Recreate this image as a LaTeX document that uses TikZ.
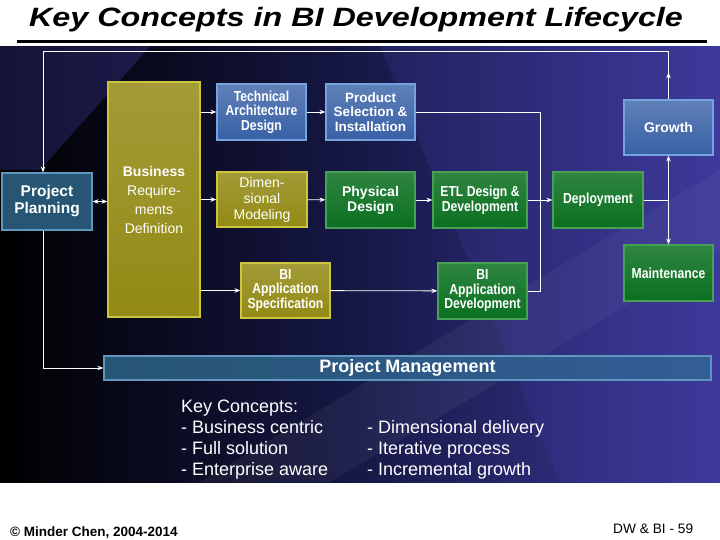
\documentclass[tikz,border=0pt]{standalone}
\usepackage{fontspec}
\setmainfont{Liberation Sans}
\newfontfamily\narrowfont[FakeStretch=0.84]{Liberation Sans}
\usetikzlibrary{calc,arrows.meta}
\definecolor{bgblue}{RGB}{62,58,156}
\definecolor{bgmid}{RGB}{22,24,70}
\definecolor{bluefill}{RGB}{56,96,166}
\definecolor{blueline}{RGB}{118,162,222}
\definecolor{olivefill}{RGB}{146,138,20}
\definecolor{oliveline}{RGB}{206,196,62}
\definecolor{greenfill}{RGB}{10,112,32}
\definecolor{greenline}{RGB}{72,160,82}
\definecolor{tealfill}{RGB}{38,86,116}
\definecolor{tealline}{RGB}{96,150,192}
\newcommand{\fs}[2]{\fontsize{#1}{#2}\selectfont}

\begin{document}
\begin{tikzpicture}[x=1pt,y=-1pt]
	\tikzset{>={Stealth[length=6pt,width=4.5pt]}}
	\tikzset{
		box/.style={draw, line width=1.2pt, inner sep=0pt, align=center, text=white},
		bluebox/.style={box, draw=blueline, top color=bluefill!80!white, bottom color=bluefill},
		olivebox/.style={box, draw=oliveline, top color=olivefill!85!white, bottom color=olivefill},
		greenbox/.style={box, draw=greenline, top color=greenfill!85!white, bottom color=greenfill},
		tealbox/.style={box, draw=tealline, fill=tealfill},
		flow/.style={draw=white, line width=0.8pt}
	}
	\useasboundingbox (0,0) rectangle (720,540);
	\fill[white] (0,0) rectangle (720,540);
	% title
	\node[anchor=base, xscale=1.22, font=\fs{26.5}{30}\bfseries\itshape] (title) at (356,27) {Key Concepts in BI Development Lifecycle};
	\draw[line width=3pt] (17,42) -- (707,42);
	% background
	\shade[left color=black, right color=bgblue, middle color=bgmid] (0,46.5) rectangle (720,482);
	\fill[bgblue, opacity=0.35] (0,46.5) -- (150,46.5) -- (40,170) -- (0,170) -- cycle;
	\fill[white, opacity=0.05] (200,482) -- (330,482) -- (720,250) -- (720,170) -- cycle;
	\fill[bgblue, opacity=0.25] (380,46.5) -- (720,46.5) -- (720,482) -- (560,482) -- cycle;

	% boxes
	\node[tealbox, minimum width=90, minimum height=57, font=\fs{15.5}{17}\bfseries] (plan) at (47,201.5) {Project\\Planning};
	\node[olivebox, minimum width=92, minimum height=235, font=\fs{14}{19}] (brd) at (154,199.5) {\textbf{Business}\\Require-\\ments\\Definition};
	\node[bluebox, minimum width=89, minimum height=56, font=\narrowfont\fs{14.5}{14.5}\bfseries] (tad) at (261.5,112) {Technical\\Architecture\\Design};
	\node[bluebox, minimum width=89, minimum height=56, font=\fs{13.5}{14.5}\bfseries] (psi) at (370.5,112) {Product\\Selection \&\\Installation};
	\node[olivebox, minimum width=90, minimum height=55, font=\fs{14}{16}] (dim) at (262,199.5) {Dimen-\\sional\\Modeling};
	\node[greenbox, minimum width=89, minimum height=56, font=\fs{14}{15}\bfseries] (phy) at (370.5,200) {Physical\\Design};
	\node[greenbox, minimum width=94, minimum height=56, font=\narrowfont\fs{14.5}{15}\bfseries] (etl) at (480,200) {ETL Design \&\\Development};
	\node[greenbox, minimum width=90, minimum height=56, font=\narrowfont\fs{14.5}{14}\bfseries] (dep) at (598,200) {Deployment};
	\node[bluebox, minimum width=89, minimum height=55, font=\fs{14}{16}\bfseries] (gro) at (668.5,127.5) {Growth};
	\node[greenbox, minimum width=89, minimum height=56, font=\narrowfont\fs{14.5}{14}\bfseries] (mnt) at (668.5,273) {Maintenance};
	\node[olivebox, minimum width=89, minimum height=55, font=\narrowfont\fs{14.5}{14.5}\bfseries] (bas) at (285.5,290.5) {BI\\Application\\Specification};
	\node[greenbox, minimum width=89, minimum height=56, font=\narrowfont\fs{14.5}{14.5}\bfseries] (bad) at (482.5,291) {BI\\Application\\Development};
	\node[tealbox, right color=bluefill!70!tealfill, left color=tealfill, minimum width=607, minimum height=24, font=\fs{18}{20}\bfseries] (pm) at (407.5,368) {Project Management};

	% connectors
	\coordinate (jn) at (540,200);
	\coordinate (split) at (gro.south |- dep.east);
	\draw[flow,->] (gro.north) -- ++(0,-27);
	\draw[flow,->] (gro.north) -- ++(0,-48) -| ([xshift=-4pt]plan.north);
	\draw[flow,<->] (plan.east) -- (plan.east -| brd.west);
	\draw[flow,->] (brd.east |- tad.west) -- (tad.west);
	\draw[flow,->] (tad) -- (psi);
	\draw[flow,->] (brd.east |- dim.west) -- (dim.west);
	\draw[flow,->] (dim) -- (phy);
	\draw[flow,->] (phy) -- (etl);
	\draw[flow,->] (etl) -- (dep);
	\draw[flow,->] (brd.east |- bas.west) -- (bas.west);
	\draw[flow,->] (bas) -- (bad);
	\draw[flow] (psi.east) -| (jn);
	\draw[flow] (bad.east) -| (jn);
	\draw[flow] (dep.east) -- (split);
	\draw[flow,->] (split) -- (gro.south);
	\draw[flow,->] (split) -- (mnt.north);
	\draw[flow,->] ([xshift=-4pt]plan.south) |- (pm.west);

	% key concepts
	\begin{scope}[every node/.style={anchor=base west, text=white, font=\fs{18}{20}, inner sep=0pt}]
		\node (kc) at (181,412) {Key Concepts:};
		\node (kc1) at (181,433) {- Business centric};
		\node (kc2) at (181,454) {- Full solution};
		\node (kc3) at (181,475) {- Enterprise aware};
		\node (kc4) at (367,433) {- Dimensional delivery};
		\node (kc5) at (367,454) {- Iterative process};
		\node (kc6) at (367,475) {- Incremental growth};
	\end{scope}

	% footer
	\node[anchor=base west, inner sep=0pt, font=\fs{13.5}{15}\bfseries] (copy) at (10,536.5) {© Minder Chen, 2004-2014};
	\node[anchor=base west, inner sep=0pt, font=\fs{13.7}{15}] (page) at (613,533) {DW \& BI - 59};
\end{tikzpicture}
\end{document}
